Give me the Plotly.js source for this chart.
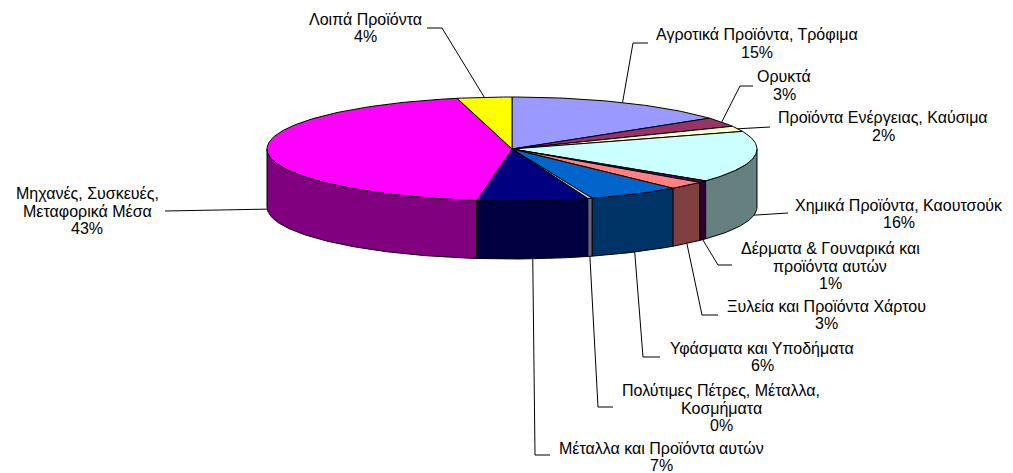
<!DOCTYPE html>
<html><head><meta charset="utf-8">
<script src="https://cdn.plot.ly/plotly-3.0.1.min.js"></script>
<style>html,body{margin:0;padding:0;background:#fff}</style>
</head><body><div id="chart" style="width:1013px;height:473px"></div>
<script>
// ---- data ----
const categories = [
  "Αγροτικά Προϊόντα, Τρόφιμα",
  "Ορυκτά",
  "Προϊόντα Ενέργειας, Καύσιμα",
  "Χημικά Προϊόντα, Καουτσούκ",
  "Δέρματα & Γουναρικά και<br>προϊόντα αυτών",
  "Ξυλεία και Προϊόντα Χάρτου",
  "Υφάσματα και Υποδήματα",
  "Πολύτιμες Πέτρες, Μέταλλα,<br>Κοσμήματα",
  "Μέταλλα και Προϊόντα αυτών",
  "Μηχανές, Συσκευές,<br>Μεταφορικά Μέσα",
  "Λοιπά Προϊόντα"
];
// slice sizes as read from the drawn (perspective) pie
const values = [14.9, 2.9, 1.7, 16.0, 0.6, 2.5, 6.1, 0.3, 7.3, 44.1, 3.6];
const percentLabels = ["15%", "3%", "2%", "16%", "1%", "3%", "6%", "0%", "7%", "43%", "4%"];

// ---- styles / layout ----
const topColors  = ["#9999FF","#993366","#FFFFCC","#CCFFFF","#660066","#FF8080","#0066CC","#CCCCFF","#000080","#FF00FF","#FFFF00"];
const sideColors = ["#4D4D80","#4D1A33","#808066","#668080","#330033","#804040","#003366","#666680","#000040","#800080","#808000"];
const labelX = [757, 784, 883, 899, 830, 826, 762, 721, 661, 87, 365];
const labelY = [43.5, 85.5, 126.5, 214, 266, 315, 357, 408, 457, 211, 28];
const lineGap = 17.5;
const elbowX = [633, 740, 770, 788, 718, 702, 643, 598, 535, 165, 442];
const elbowY = [43, 86, 127, 213, 265, 315, 357, 407, 455, 211, 28];
const endX   = [648, 753, 770, 788, 732, 718, 660, 613, 550, 165, 427];
const endY   = [43, 86, 127, 213, 265, 315, 357, 407, 455, 211, 28];

const CX = 512, CY = 149, RX = 245, RY = 52, DEPTH = 58;
function pt(deg, dy) {
  const t = deg * Math.PI / 180;
  return [CX + RX * Math.sin(t), CY - RY * Math.cos(t) + (dy || 0)];
}
function arc(a, b, dy) {
  const pts = [];
  const n = Math.max(2, Math.ceil(Math.abs(b - a) / 1));
  for (let i = 0; i <= n; i++) pts.push(pt(a + (b - a) * i / n, dy));
  return pts;
}

const total = values.reduce((s, v) => s + v, 0);
const starts = [], ends = [];
let acc = 0;
values.forEach(v => { starts.push(acc / total * 360); acc += v; ends.push(acc / total * 360); });

const traces = [];
// side walls (visible front half: 90..270)
values.forEach((v, i) => {
  const a = Math.max(starts[i], 90), b = Math.min(ends[i], 270);
  if (b <= a) return;
  const pts = arc(a, b, 0).concat(arc(b, a, DEPTH));
  pts.push(pts[0]);
  traces.push({
    type: "scatter", mode: "lines", fill: "toself",
    x: pts.map(p => p[0]), y: pts.map(p => p[1]),
    fillcolor: sideColors[i], line: {color: "#000", width: 1},
    hoverinfo: "skip", showlegend: false
  });
});
// top faces
values.forEach((v, i) => {
  const pts = [[CX, CY]].concat(arc(starts[i], ends[i], 0));
  pts.push([CX, CY]);
  traces.push({
    type: "scatter", mode: "lines", fill: "toself",
    x: pts.map(p => p[0]), y: pts.map(p => p[1]),
    fillcolor: topColors[i], line: {color: "#000", width: 1},
    hoverinfo: "skip", showlegend: false
  });
});
// leader lines
values.forEach((v, i) => {
  const mid = (starts[i] + ends[i]) / 2;
  const m = ((mid % 360) + 360) % 360;
  const anchor = (m > 90 && m < 270) ? pt(mid, DEPTH) : pt(mid, 0);
  traces.push({
    type: "scatter", mode: "lines",
    x: [anchor[0], elbowX[i], endX[i]], y: [anchor[1], elbowY[i], endY[i]],
    line: {color: "#000", width: 1},
    hoverinfo: "skip", showlegend: false
  });
});

const annotations = [];
categories.forEach((c, i) => {
  const lines = c.split("<br>").concat([percentLabels[i]]);
  const n = lines.length;
  lines.forEach((txt, k) => {
    annotations.push({
      x: labelX[i], y: labelY[i] + (k - (n - 1) / 2) * lineGap, xref: "x", yref: "y",
      text: txt, showarrow: false, align: "center", xanchor: "center", yanchor: "middle",
      font: {family: "Liberation Sans, Arial, sans-serif", size: 16, color: "#000"}
    });
  });
});

const layout = {
  width: 1013, height: 473,
  margin: {l: 0, r: 0, t: 0, b: 0},
  paper_bgcolor: "#fff", plot_bgcolor: "#fff",
  xaxis: {range: [0, 1013], visible: false, fixedrange: true},
  yaxis: {range: [473, 0], visible: false, fixedrange: true},
  annotations: annotations,
  showlegend: false
};
Plotly.newPlot("chart", traces, layout, {displayModeBar: false, staticPlot: true});
</script>
</body></html>
